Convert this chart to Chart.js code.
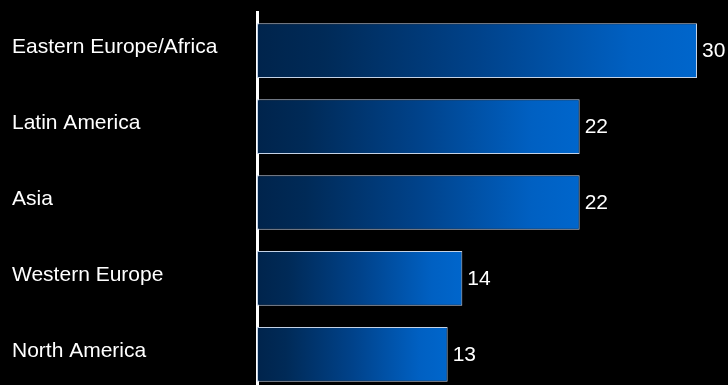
<!DOCTYPE html>
<html>
<head>
<meta charset="utf-8">
<script src="https://cdn.jsdelivr.net/npm/chart.js@4/dist/chart.umd.min.js"></script>
<style>
  html, body { margin: 0; padding: 0; background: #000; overflow: hidden; }
  #wrap { width: 728px; height: 405px; position: relative; }
</style>
</head>
<body>
<div id="wrap"><canvas id="regionChart"></canvas></div>
<script>
// Data
const regions = ['Eastern Europe/Africa', 'Latin America', 'Asia', 'Western Europe', 'North America'];
const values = [30, 22, 22, 14, 13];

const fontFamily = '"Liberation Sans", Arial, sans-serif';

// each bar gets its own left-to-right gradient
function barGradient(context) {
    const chart = context.chart;
    const xScale = chart.scales.x;
    if (!xScale || !chart.chartArea || context.dataIndex === undefined) return '#0050a0';
    const v = context.dataset.data[context.dataIndex];
    const x0 = xScale.getPixelForValue(0);
    const x1 = xScale.getPixelForValue(v);
    if (!isFinite(x0) || !isFinite(x1) || x1 <= x0) return '#0050a0';
    const g = chart.ctx.createLinearGradient(x0, 0, x1, 0);
    g.addColorStop(0, '#00244c');
    g.addColorStop(0.15, '#002a57');
    g.addColorStop(0.5, '#00428a');
    g.addColorStop(0.85, '#0060c2');
    g.addColorStop(1, '#0066cc');
    return g;
}

// value labels at the end of each bar
const valueLabels = {
    id: 'valueLabels',
    afterDatasetsDraw(chart) {
        const ctx = chart.ctx;
        const meta = chart.getDatasetMeta(0);
        ctx.save();
        ctx.fillStyle = '#ffffff';
        ctx.font = '21px ' + fontFamily;
        ctx.textAlign = 'left';
        ctx.textBaseline = 'middle';
        meta.data.forEach((bar, i) => {
            ctx.fillText(String(values[i]), bar.x + 5, bar.y + 1);
        });
        ctx.restore();
    }
};

const ctx = document.getElementById('regionChart').getContext('2d');

const regionChart = new Chart(ctx, {
    type: 'bar',
    data: {
        labels: regions,
        datasets: [{
            data: values,
            backgroundColor: barGradient,
            borderColor: '#c4d2e6',
            borderWidth: 1,
            borderSkipped: false,
            barPercentage: 0.8,
            categoryPercentage: 0.9
        }]
    },
    options: {
        indexAxis: 'y',
        responsive: true,
        maintainAspectRatio: false,
        animation: false,
        layout: { padding: { left: 12, right: 31, top: 8, bottom: 0 } },
        plugins: {
            legend: { display: false },
            tooltip: { enabled: false }
        },
        scales: {
            x: {
                display: false,
                min: 0,
                max: 30
            },
            y: {
                grid: { display: false, drawTicks: false },
                border: { display: true, color: '#ffffff', width: 3 },
                ticks: {
                    color: '#ffffff',
                    font: { family: fontFamily, size: 21 },
                    crossAlign: 'far',
                    padding: 0,
                    labelOffset: -3
                },
                afterFit(scale) {
                    scale.width = 245;
                }
            }
        }
    },
    plugins: [valueLabels]
});
</script>
</body>
</html>
